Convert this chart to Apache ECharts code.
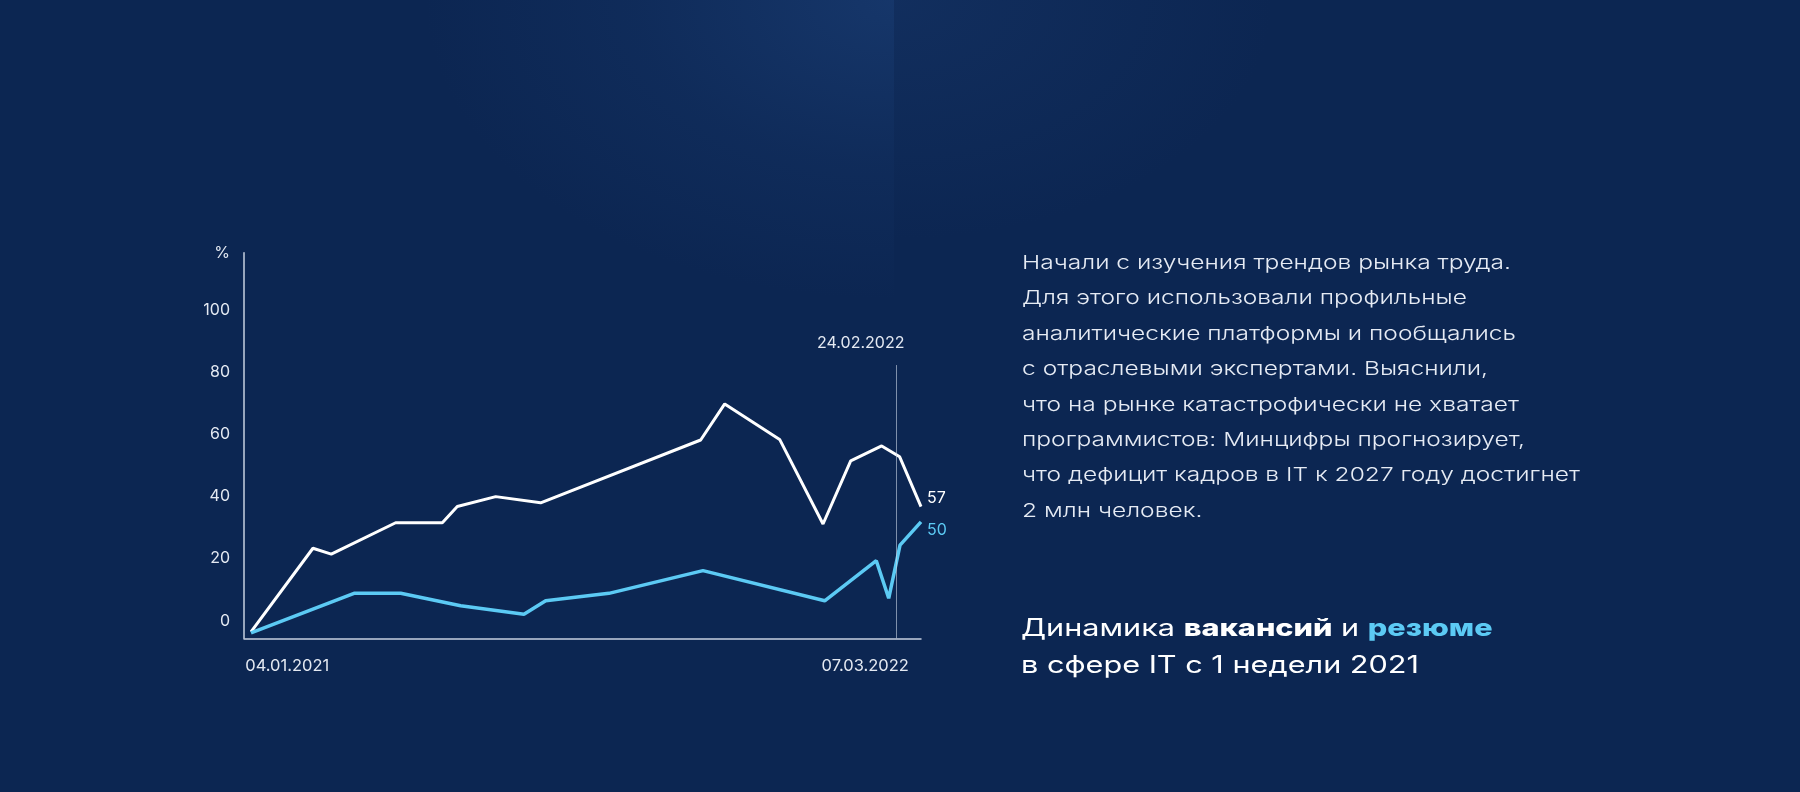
<!DOCTYPE html>
<html>
<head>
<meta charset="utf-8">
<script src="https://cdn.jsdelivr.net/npm/echarts@6/dist/echarts.min.js"></script>
<style>
html, body { margin: 0; padding: 0; width: 1800px; height: 792px; overflow: hidden; background: #0c2652; }
#bg {
  position: absolute; left: 0; top: 0; width: 1800px; height: 792px;
  background:
    radial-gradient(ellipse 470px 300px at 100% 0%, rgba(30,68,126,0.55), rgba(30,68,126,0.18) 55%, rgba(30,68,126,0) 100%) 0 0 / 894px 792px no-repeat,
    radial-gradient(ellipse 380px 240px at 0% 0%, rgba(28,62,116,0.35), rgba(28,62,116,0) 100%) 894px 0 / 906px 792px no-repeat,
    #0c2652;
}
#chart { position: absolute; left: 0; top: 0; width: 1800px; height: 792px; }
</style>
</head>
<body>
<div id="bg"></div>
<div id="chart"></div>
<script>
// ---- Data (week index from 04.01.2021, value in %) ----
const weeksVacancies  = [0, 5.64, 7.31, 13.17, 17.42, 18.78, 22.28, 26.37, 40.94, 43.13, 48.13, 52.08, 54.60, 57.42, 59.06, 61];
const valuesVacancies = [-3.6, 23.3, 21.4, 31.5, 31.5, 36.7, 39.9, 37.9, 58.1, 69.7, 58.3, 31.1, 51.4, 56.2, 52.7, 36.7];
const weeksResumes    = [0, 9.38, 13.63, 19.09, 24.85, 26.83, 32.59, 41.15, 52.23, 56.93, 58.06, 59.09, 61];
const valuesResumes   = [-3.9, 8.8, 8.8, 4.8, 2.1, 6.4, 8.8, 16.1, 6.4, 19.3, 7.2, 24.3, 31.8];
const endLabels = ['57', '50'];
const seriesNames = ['вакансии', 'резюме'];
const yTickValues = [0, 20, 40, 60, 80, 100];
const xTickWeeks  = [3.3, 55.92];
const xTickLabels = ['04.01.2021', '07.03.2022'];
const markerWeek  = 58.79;
const markerTop   = 82.2;
const markerLabel = '24.02.2022';
const yAxisName   = '%';
const paragraphLines = [
  'Начали с изучения трендов рынка труда.',
  'Для этого использовали профильные',
  'аналитические платформы и пообщались',
  'с отраслевыми экспертами. Выяснили,',
  'что на рынке катастрофически не хватает',
  'программистов: Минцифры прогнозирует,',
  'что дефицит кадров в IT к 2027 году достигнет',
  '2 млн человек.'
];
const titleParts = ['Динамика ', 'вакансий', ' и ', 'резюме'];
const titleLine2 = 'в сфере IT с 1 недели 2021';

// ---- Styles ----
const WHITE = '#ffffff';
const BLUE = '#5ccaf4';
const LABEL = '#e4e9f2';
const FONT = "Inter, 'Noto Sans', sans-serif";

function textWidth(text, font) {
  const ctx = document.createElement('canvas').getContext('2d');
  ctx.font = font;
  return ctx.measureText(text).width;
}
const paraFont = "300 19px " + FONT;
const paraScale = 489 / textWidth(paragraphLines[0], paraFont);
const titleFont = "400 24px " + FONT;
const titleScale = 398 / textWidth(titleLine2, titleFont);

const vacData = weeksVacancies.map((w, i) => [w, valuesVacancies[i]]);
const resData = weeksResumes.map((w, i) => [w, valuesResumes[i]]);

const X_MIN = -0.637, X_MAX = 61, Y_MIN = -5.66, Y_MAX = 118.33;

const chart = echarts.init(document.getElementById('chart'), null, { renderer: 'canvas' });
chart.setOption({
  backgroundColor: 'transparent',
  animation: false,
  textStyle: { fontFamily: FONT },
  grid: { left: 244, right: 879, top: 252.7, bottom: 153.7, containLabel: false, outerBoundsMode: 'none' },
  xAxis: {
    type: 'value', min: X_MIN, max: X_MAX,
    axisLine: { show: true, onZero: false, lineStyle: { color: '#c6d0e0', width: 1.5 } },
    axisTick: { show: false },
    splitLine: { show: false },
    axisLabel: {
      customValues: xTickWeeks,
      margin: 19, fontSize: 16.5, color: LABEL, fontFamily: FONT,
      formatter: function (v) {
        let best = 0;
        xTickWeeks.forEach((w, i) => { if (Math.abs(w - v) < Math.abs(xTickWeeks[best] - v)) best = i; });
        return xTickLabels[best];
      }
    }
  },
  yAxis: {
    type: 'value', min: Y_MIN, max: Y_MAX,
    name: yAxisName, nameLocation: 'end', nameGap: 0,
    nameTextStyle: { color: LABEL, fontSize: 16, align: 'right', verticalAlign: 'middle', padding: [0, 14, 0, 0], fontFamily: FONT },
    axisLine: { show: true, onZero: false, lineStyle: { color: '#c6d0e0', width: 1.5 } },
    axisTick: { show: false },
    splitLine: { show: false },
    axisLabel: { customValues: yTickValues, margin: 14, fontSize: 16, color: LABEL, fontFamily: FONT }
  },
  series: [
    {
      name: seriesNames[0], type: 'line', data: vacData, symbol: 'none',
      lineStyle: { color: WHITE, width: 3 }, z: 3,
      endLabel: { show: true, formatter: endLabels[0], color: WHITE, fontSize: 16, distance: 6, offset: [0, -8], fontFamily: FONT },
      markLine: {
        silent: true, symbol: ['none', 'none'],
        lineStyle: { color: 'rgba(205,215,232,0.6)', width: 1, type: 'solid' },
        label: { show: true, position: 'end', formatter: markerLabel, color: LABEL, fontSize: 16, distance: 14, padding: [0, 72, 0, 0], fontFamily: FONT },
        data: [[{ coord: [markerWeek, Y_MIN] }, { coord: [markerWeek, markerTop] }]]
      }
    },
    {
      name: seriesNames[1], type: 'line', data: resData, symbol: 'none',
      lineStyle: { color: BLUE, width: 3.5 }, z: 4,
      endLabel: { show: true, formatter: endLabels[1], color: BLUE, fontSize: 16, distance: 6, offset: [0, 8], fontFamily: FONT }
    }
  ],
  graphic: [
    {
      type: 'text', x: 1022, y: 245.5, scaleX: paraScale, silent: true,
      style: { text: paragraphLines.join('\n'), font: paraFont, fill: '#e6ebf4', lineHeight: 35.4, verticalAlign: 'top', align: 'left' }
    },
    {
      type: 'text', x: 1021, y: 610.5, scaleX: titleScale, silent: true,
      style: {
        text: '{n|' + titleParts[0] + '}{b|' + titleParts[1] + '}{n|' + titleParts[2] + '}{c|' + titleParts[3] + '}\n{n|' + titleLine2 + '}',
        verticalAlign: 'top', align: 'left',
        rich: {
          n: { fontFamily: FONT, fontSize: 24, fontWeight: 400, fill: WHITE, lineHeight: 37 },
          b: { fontFamily: FONT, fontSize: 24, fontWeight: 800, fill: WHITE, lineHeight: 37 },
          c: { fontFamily: FONT, fontSize: 24, fontWeight: 800, fill: BLUE, lineHeight: 37 }
        }
      }
    }
  ]
});
</script>
</body>
</html>
